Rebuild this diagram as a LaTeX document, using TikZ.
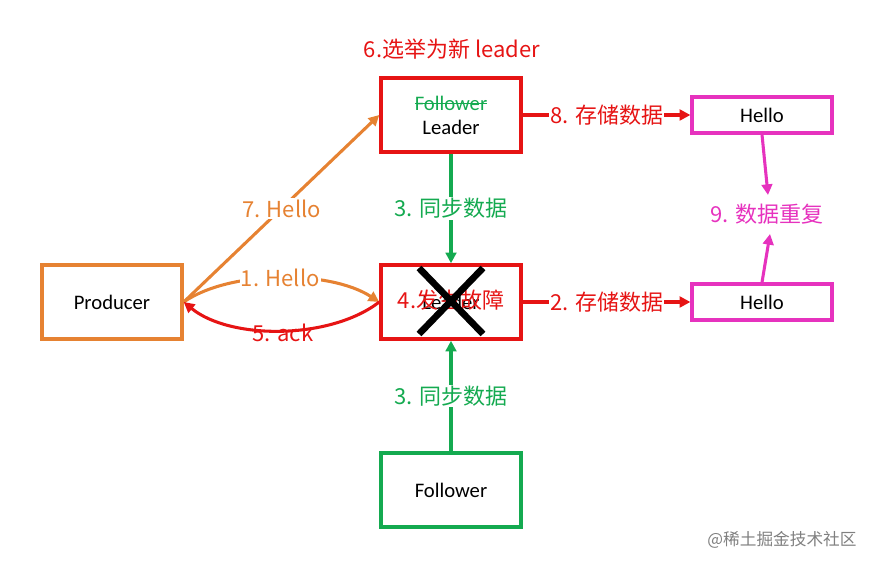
\documentclass[tikz,border=0pt]{standalone}
\usepackage{fontspec}
\setmainfont{Carlito}
\newfontfamily\cjk{Noto Sans CJK SC}
\usetikzlibrary{arrows.meta}
\definecolor{cred}{RGB}{230,20,20}
\definecolor{corg}{RGB}{230,130,50}
\definecolor{cgrn}{RGB}{20,170,80}
\definecolor{cmag}{RGB}{230,50,190}
\newcommand\mystrike[1]{\setbox0\hbox{#1}\rlap{\rule[0.3em]{\wd0}{0.8pt}}\box0}
\begin{document}
\begin{tikzpicture}[x=0.75pt,y=-0.75pt,
  box/.style={draw,line width=2.6pt,minimum width=105pt,minimum height=55.5pt,inner sep=0pt,font=\fontsize{15.5}{17}\selectfont},
  hbox/.style={draw=cmag,line width=2.4pt,minimum width=105pt,minimum height=27pt,inner sep=0pt,font=\fontsize{15.5}{17}\selectfont},
  lbl/.style={font=\fontsize{16.5}{18}\selectfont\cjk,inner sep=1pt},
  arr/.style={line width=2.3pt,-{Triangle[length=8pt,width=8pt]}}]
\useasboundingbox (0,0) rectangle (882,566);
\node[box,draw=corg] (prod) at (112,302) {Producer};
\node[box,draw=cred,align=center] (lead) at (451,115) {\textcolor{cgrn}{\mystrike{Follower}}\\[1pt]Leader};
\node[box,draw=cred] (mid) at (451,302) {};
\node[box,draw=cgrn] (fol) at (451,490) {Follower};
\node[hbox] (h1) at (762,115) {Hello};
\node[hbox] (h2) at (762,302) {Hello};
\node[lbl,text=cred] (t6) at (452,49) {6.选举为新 leader};
\node[lbl,text=cmag] (t9) at (767,214) {9. 数据重复};
\node[font=\fontsize{15.5}{17}\selectfont] (midl) at (451,302) {Leader};
\node[lbl,text=cred] (t4) at (451,300) {4.发生故障};
\draw[line width=5pt] (419,268) -- (483,334) (483,268) -- (419,334);
\draw[arr,cred] (lead.east) -- node[lbl,fill=white]{8. 存储数据} (h1.west);
\draw[arr,cred] (mid.east) -- node[lbl,fill=white]{2. 存储数据} (h2.west);
\draw[arr,cgrn] (lead.south) -- node[lbl,fill=white]{3. 同步数据} (mid.north);
\draw[arr,cgrn] (fol.north) -- node[lbl,fill=white]{3. 同步数据} (mid.south);
\draw[arr,cmag] (h1.south) -- (768,195);
\draw[arr,cmag] (h2.north) -- (770,234);
\draw[arr,corg] (prod.east) -- node[lbl,fill=white,text=corg]{7. Hello} (lead.west);
\draw[arr,corg] (prod.east) .. controls (230,270) and (330,270) .. node[lbl,fill=white,text=corg,pos=0.5]{1. Hello} (mid.west);
\draw[arr,cred] (mid.west) .. controls (330,340) and (230,340) .. (prod.east);
\node[lbl,text=cred] (t5) at (283,333) {5. ack};
\node[font=\fontsize{12.5}{14}\selectfont\cjk,text=gray] (wm) at (782,540) {@稀土掘金技术社区};
\end{tikzpicture}
\end{document}
